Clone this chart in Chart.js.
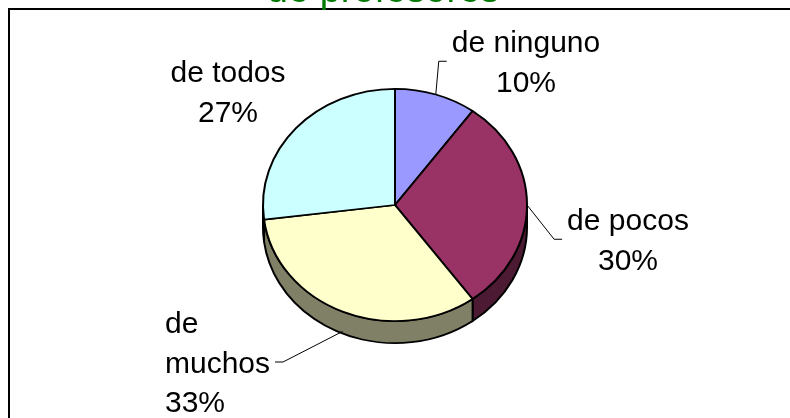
<!DOCTYPE html>
<html>
<head>
<meta charset="utf-8">
<script src="https://cdn.jsdelivr.net/npm/chart.js@4.4.0/dist/chart.umd.min.js"></script>
<style>
  html, body { margin: 0; padding: 0; background: #fff; }
  #wrap { width: 790px; height: 418px; }
</style>
</head>
<body>
<div id="wrap"><canvas id="chart" width="790" height="418"></canvas></div>
<script>
const title = "de profesores";
const categories = ["de ninguno", "de pocos", "de muchos", "de todos"];
const percents = [10, 30, 33, 27];
const topColors = ["#9999ff", "#993366", "#ffffcc", "#ccffff"];
const sideColors = ["#4d4d80", "#4d1a33", "#808066", "#668080"];

// label placement, relative to the pie centre (x, first baseline)
const labelSpots = [
    { dx: 131, dy: -153, align: "center", wrap: false, leader: true },
    { dx: 233, dy: 25, align: "center", wrap: false, leader: true },
    { dx: -230, dy: 128, align: "left", wrap: true, leader: true },
    { dx: -167, dy: -123, align: "center", wrap: false, leader: false }
];

const TILT = 0.88;   // vertical squash of the pie top
const DEPTH = 22;    // thickness of the pie, px on screen
const FONT = '30px "Liberation Sans", Arial, sans-serif';
const LINE_H = 39.5;

function pieCentre(chart) {
    const arc = chart.getDatasetMeta(0).data[0];
    return { cx: arc.x, cy: arc.y };
}

const pie3d = {
    id: "pie3d",
    beforeDraw(chart) {
        // chart frame, runs off the right and bottom edges
        const ctx = chart.ctx;
        ctx.save();
        ctx.lineWidth = 2;
        ctx.strokeStyle = "#000";
        ctx.strokeRect(9, 9, 1000, 1000);
        ctx.restore();
    },
    beforeDatasetsDraw(chart) {
        const ctx = chart.ctx;
        const { cx, cy } = pieCentre(chart);
        ctx.save();
        ctx.translate(cx, cy);
        ctx.scale(1, TILT);
        ctx.translate(-cx, -cy);
        const d = DEPTH / TILT;
        chart.getDatasetMeta(0).data.forEach((arc, i) => {
            const p = arc.getProps(["startAngle", "endAngle", "outerRadius"], true);
            const a0 = Math.max(p.startAngle, 0);
            const a1 = Math.min(p.endAngle, Math.PI);
            if (a1 <= a0) return;
            const r = p.outerRadius;
            ctx.beginPath();
            ctx.arc(cx, cy, r, a0, a1);
            ctx.lineTo(cx + r * Math.cos(a1), cy + d + r * Math.sin(a1));
            ctx.arc(cx, cy + d, r, a1, a0, true);
            ctx.closePath();
            ctx.fillStyle = sideColors[i];
            ctx.fill();
            ctx.lineWidth = 2;
            ctx.strokeStyle = "#000";
            ctx.stroke();
        });
    },
    afterDatasetsDraw(chart) {
        chart.ctx.restore();
    },
    afterDraw(chart) {
        const ctx = chart.ctx;
        const { cx, cy } = pieCentre(chart);
        const total = percents.reduce((a, b) => a + b, 0);
        ctx.save();
        ctx.font = FONT;
        ctx.fillStyle = "#000";
        ctx.textBaseline = "alphabetic";
        chart.getDatasetMeta(0).data.forEach((arc, i) => {
            const p = arc.getProps(["startAngle", "endAngle", "outerRadius"], true);
            const mid = (p.startAngle + p.endAngle) / 2;
            const spot = labelSpots[i];
            const lines = spot.wrap ? categories[i].split(" ") : [categories[i]];
            lines.push(Math.round(percents[i] / total * 100) + "%");
            const maxW = Math.max(...lines.map(t => ctx.measureText(t).width));
            const tx = cx + spot.dx, ty = cy + spot.dy;
            const left = spot.align === "left" ? tx : tx - maxW / 2;
            const right = left + maxW;
            ctx.textAlign = spot.align;
            lines.forEach((t, j) => ctx.fillText(t, tx, ty + j * LINE_H));

            if (spot.leader) {
                const ax = cx + p.outerRadius * Math.cos(mid);
                let ay = cy + p.outerRadius * TILT * Math.sin(mid);
                if (Math.sin(mid) > 0) ay += DEPTH * 0.9;
                const midY = (ty - 21 + ty + (lines.length - 1) * LINE_H) / 2;
                const toRight = ax < left;
                const edge = toRight ? left : right;
                const s = toRight ? -1 : 1;
                ctx.beginPath();
                ctx.moveTo(ax, ay);
                ctx.lineTo(edge + s * 13, midY);
                ctx.lineTo(edge + s * 5, midY);
                ctx.lineWidth = 1;
                ctx.strokeStyle = "#000";
                ctx.stroke();
            }
        });

        // title, mostly cut off by the top of the picture
        ctx.font = '38px "Liberation Sans", Arial, sans-serif';
        ctx.fillStyle = "#007a00";
        ctx.textAlign = "center";
        ctx.fillText(title, 383, 2);
        ctx.restore();
    }
};

new Chart(document.getElementById("chart"), {
    type: "pie",
    data: {
        labels: categories,
        datasets: [{
            data: percents,
            backgroundColor: topColors,
            borderColor: "#000",
            borderWidth: 2,
            radius: 132
        }]
    },
    options: {
        responsive: false,
        animation: false,
        events: [],
        layout: { padding: { top: 60, bottom: 68, left: 0, right: 0 } },
        plugins: {
            legend: { display: false },
            tooltip: { enabled: false },
            title: { display: false }
        }
    },
    plugins: [pie3d]
});
</script>
</body>
</html>
